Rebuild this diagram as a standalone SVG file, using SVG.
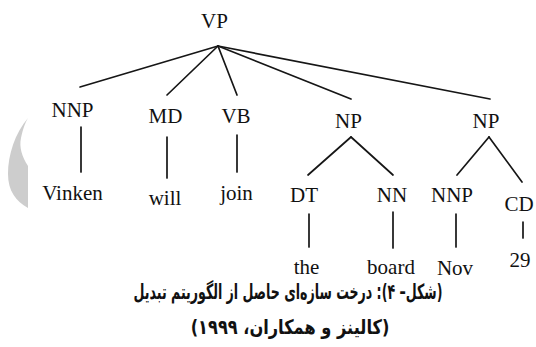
<svg xmlns="http://www.w3.org/2000/svg" width="536" height="347" viewBox="0 0 536 347">
<style>
.t{font-family:"Liberation Serif","Times New Roman",serif;font-size:21px;fill:#111111;text-anchor:middle}
.c{font-family:"DejaVu Sans","Noto Sans",sans-serif;font-weight:bold;fill:#111111;text-anchor:middle}
.e{stroke:#161616;stroke-width:1.7;fill:none;stroke-linecap:round}
</style>
<rect width="536" height="347" fill="#ffffff"/>
<path d="M28 118 C15 133 8 155 8 174 C8 191 16 201 28 208 L28 166 C22 157 19 147 21 138 C23 129 25 123 28 118 Z" fill="#cdcdcd"/>
<g id="connectors">
<line class="e" x1="218" y1="46" x2="80" y2="87"/>
<line class="e" x1="218" y1="46" x2="167" y2="95"/>
<line class="e" x1="218" y1="46" x2="237" y2="95"/>
<line class="e" x1="218" y1="46" x2="351" y2="99"/>
<line class="e" x1="218" y1="46" x2="490" y2="99"/>
<line class="e" x1="81" y1="127" x2="81" y2="172"/>
<line class="e" x1="167" y1="137" x2="167" y2="178"/>
<line class="e" x1="237" y1="135" x2="237" y2="172"/>
<line class="e" x1="351" y1="137" x2="308" y2="175"/>
<line class="e" x1="351" y1="137" x2="393" y2="175"/>
<line class="e" x1="489" y1="137" x2="457" y2="175"/>
<line class="e" x1="489" y1="137" x2="522" y2="182"/>
<line class="e" x1="309" y1="214" x2="309" y2="247"/>
<line class="e" x1="393" y1="212" x2="393" y2="248"/>
<line class="e" x1="456" y1="214" x2="456" y2="247"/>
<line class="e" x1="523" y1="222" x2="523" y2="238"/>
</g>
<g id="n-vp"><text class="t" x="214.5" y="28">VP</text></g>
<g id="n-nnp1"><text class="t" x="72.5" y="117">NNP</text></g>
<g id="n-md"><text class="t" x="165.5" y="123">MD</text></g>
<g id="n-vb"><text class="t" x="236" y="123">VB</text></g>
<g id="n-np1"><text class="t" x="348.5" y="128">NP</text></g>
<g id="n-np2"><text class="t" x="486" y="128">NP</text></g>
<g id="n-vinken"><text class="t" x="72.5" y="200">Vinken</text></g>
<g id="n-will"><text class="t" x="165" y="205">will</text></g>
<g id="n-join"><text class="t" x="236.5" y="200">join</text></g>
<g id="n-dt"><text class="t" x="304" y="202">DT</text></g>
<g id="n-nn"><text class="t" x="392" y="202">NN</text></g>
<g id="n-nnp2"><text class="t" x="452" y="202">NNP</text></g>
<g id="n-cd"><text class="t" x="519" y="211">CD</text></g>
<g id="n-the"><text class="t" x="306.5" y="274">the</text></g>
<g id="n-board"><text class="t" x="391" y="274">board</text></g>
<g id="n-nov"><text class="t" x="455" y="275">Nov</text></g>
<g id="n-29"><text class="t" x="520" y="267">29</text></g>
<g id="caption">
<text class="c" transform="translate(288 299) scale(0.6 1)" x="0" y="0" font-size="21" direction="rtl">(شکل– ۴): درخت سازه‌ای حاصل از الگوریتم تبدیل</text>
<text class="c" transform="translate(290 334) scale(0.81 1)" x="0" y="0" font-size="20" direction="rtl">(کالینز و همکاران، ۱۹۹۹)</text>
</g>
</svg>
